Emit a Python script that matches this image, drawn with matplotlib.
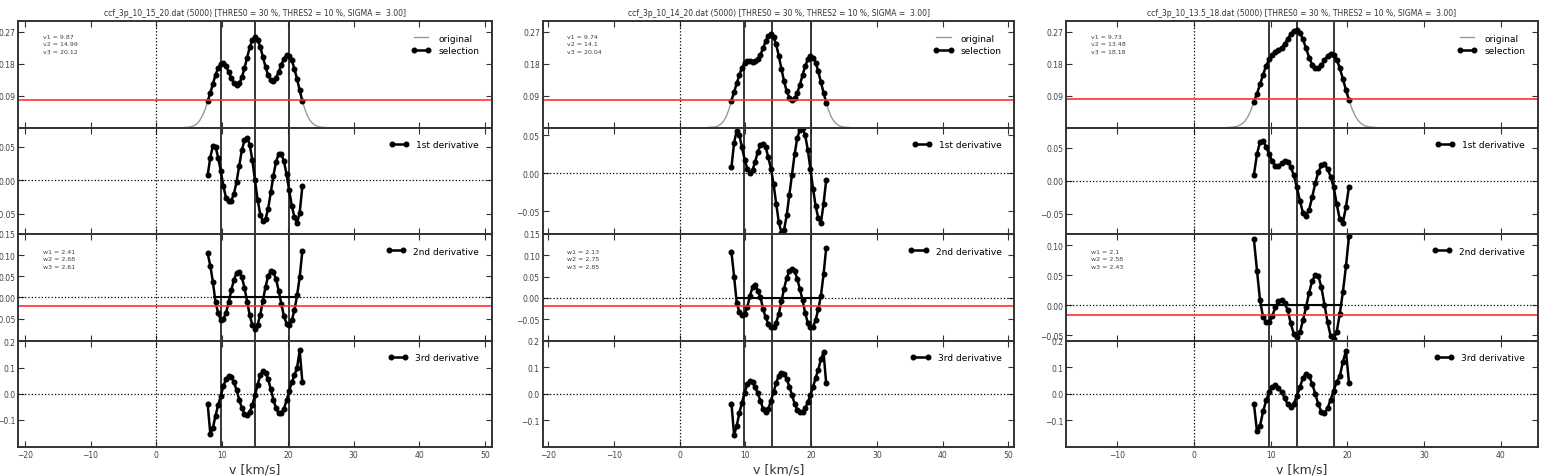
import matplotlib
matplotlib.use("Agg")
import matplotlib.pyplot as plt
import numpy as np

# ---- data, one block per file ----
titles = [
    "ccf_3p_10_15_20.dat (5000) [THRES0 = 30 %, THRES2 = 10 %, SIGMA =  3.00]",
    "ccf_3p_10_14_20.dat (5000) [THRES0 = 30 %, THRES2 = 10 %, SIGMA =  3.00]",
    "ccf_3p_10_13.5_18.dat (5000) [THRES0 = 30 %, THRES2 = 10 %, SIGMA =  3.00]",
]

# file 1: ccf_3p_10_15_20
vel_a = [7.8, 8.2, 8.6, 9.0, 9.4, 9.8, 10.2, 10.6, 11.0, 11.4, 11.8, 12.2, 12.6,
         13.0, 13.4, 13.8, 14.2, 14.6, 15.0, 15.4, 15.8, 16.2, 16.6, 17.0, 17.4,
         17.8, 18.2, 18.6, 19.0, 19.4, 19.8, 20.2, 20.6, 21.0, 21.4, 21.8, 22.2]
ccf_a = [0.074, 0.097, 0.123, 0.148, 0.168, 0.180, 0.181, 0.172, 0.157, 0.139,
         0.124, 0.119, 0.124, 0.141, 0.167, 0.197, 0.226, 0.247, 0.255, 0.247,
         0.227, 0.199, 0.171, 0.147, 0.133, 0.131, 0.140, 0.156, 0.176, 0.194,
         0.204, 0.202, 0.189, 0.165, 0.136, 0.105, 0.074]
d1_a = [0.008, 0.034, 0.052, 0.050, 0.034, 0.014, -0.009, -0.026, -0.031, -0.030,
        -0.020, -0.002, 0.022, 0.045, 0.060, 0.064, 0.053, 0.030, 0.000, -0.029,
        -0.051, -0.061, -0.058, -0.042, -0.018, 0.007, 0.028, 0.039, 0.039, 0.029,
        0.009, -0.015, -0.038, -0.055, -0.064, -0.048, -0.009]
d2_a = [0.104, 0.075, 0.036, -0.012, -0.037, -0.054, -0.051, -0.036, -0.011, 0.017,
        0.042, 0.058, 0.060, 0.048, 0.023, -0.010, -0.042, -0.066, -0.074, -0.065,
        -0.041, -0.008, 0.025, 0.050, 0.062, 0.060, 0.043, 0.016, -0.015, -0.044,
        -0.062, -0.065, -0.054, -0.030, 0.005, 0.048, 0.110]
d3_a = [-0.038, -0.152, -0.130, -0.083, -0.043, -0.008, 0.030, 0.056, 0.068, 0.065,
        0.045, 0.013, -0.022, -0.055, -0.076, -0.082, -0.070, -0.043, -0.005, 0.035,
        0.070, 0.086, 0.080, 0.055, 0.018, -0.022, -0.056, -0.074, -0.075, -0.058,
        -0.025, 0.010, 0.045, 0.070, 0.100, 0.165, 0.045]
tail_l_vel_a = [4.2, 4.6, 5.0, 5.4, 5.8, 6.2, 6.6, 7.0, 7.4]
tail_l_ccf_a = [0.0, 0.0005, 0.001, 0.003, 0.006, 0.011, 0.020, 0.033, 0.050]
tail_r_vel_a = [22.6, 23.0, 23.4, 23.8, 24.2, 24.6, 25.0, 25.4, 25.8]
tail_r_ccf_a = [0.051, 0.032, 0.019, 0.011, 0.0055, 0.0027, 0.0012, 0.0005, 0.0]
peaks_a = [9.87, 14.99, 20.12]
widths_a = [2.41, 2.68, 2.61]

# file 2: ccf_3p_10_14_20
vel_b = [7.9, 8.3, 8.7, 9.1, 9.5, 9.9, 10.3, 10.7, 11.1, 11.5, 11.9, 12.3, 12.7,
         13.1, 13.5, 13.9, 14.3, 14.7, 15.1, 15.5, 15.9, 16.3, 16.7, 17.1, 17.5,
         17.9, 18.3, 18.7, 19.1, 19.5, 19.9, 20.3, 20.7, 21.1, 21.5, 21.9, 22.3]
ccf_b = [0.076, 0.100, 0.124, 0.148, 0.168, 0.182, 0.187, 0.187, 0.185, 0.186,
         0.193, 0.205, 0.223, 0.243, 0.257, 0.262, 0.255, 0.234, 0.201, 0.165,
         0.130, 0.102, 0.084, 0.077, 0.082, 0.097, 0.120, 0.147, 0.172, 0.192,
         0.201, 0.197, 0.183, 0.158, 0.128, 0.098, 0.070]
d1_b = [0.008, 0.040, 0.056, 0.050, 0.034, 0.018, 0.006, 0.001, 0.004, 0.015,
        0.028, 0.037, 0.039, 0.034, 0.021, 0.006, -0.014, -0.040, -0.064, -0.078,
        -0.074, -0.055, -0.028, -0.002, 0.025, 0.046, 0.057, 0.059, 0.050, 0.031,
        0.006, -0.020, -0.043, -0.059, -0.065, -0.040, -0.009]
d2_b = [0.107, 0.050, -0.012, -0.033, -0.041, -0.038, -0.022, 0.004, 0.025, 0.030,
        0.017, 0.002, -0.025, -0.046, -0.061, -0.069, -0.069, -0.058, -0.037, -0.008,
        0.022, 0.047, 0.063, 0.068, 0.063, 0.045, 0.021, -0.005, -0.035, -0.058,
        -0.069, -0.068, -0.052, -0.026, 0.005, 0.055, 0.117]
d3_b = [-0.038, -0.155, -0.120, -0.072, -0.033, 0.004, 0.035, 0.049, 0.044, 0.024,
        0.002, -0.027, -0.056, -0.069, -0.058, -0.026, 0.006, 0.041, 0.068, 0.079,
        0.075, 0.055, 0.027, -0.005, -0.037, -0.060, -0.069, -0.068, -0.055, -0.032,
        -0.006, 0.025, 0.060, 0.090, 0.130, 0.155, 0.039]
tail_l_vel_b = [4.3, 4.7, 5.1, 5.5, 5.9, 6.3, 6.7, 7.1, 7.5]
tail_l_ccf_b = [0.0, 0.0005, 0.001, 0.002, 0.005, 0.010, 0.018, 0.031, 0.050]
tail_r_vel_b = [22.7, 23.1, 23.5, 23.9, 24.3, 24.7, 25.1, 25.5, 25.9]
tail_r_ccf_b = [0.047, 0.029, 0.017, 0.0095, 0.0048, 0.0023, 0.001, 0.0004, 0.0]
peaks_b = [9.74, 14.1, 20.04]
widths_b = [2.13, 2.75, 2.85]

# file 3: ccf_3p_10_13.5_18
vel_c = [7.8, 8.2, 8.6, 9.0, 9.4, 9.8, 10.2, 10.6, 11.0, 11.4, 11.8, 12.2, 12.6,
         13.0, 13.4, 13.8, 14.2, 14.6, 15.0, 15.4, 15.8, 16.2, 16.6, 17.0, 17.4,
         17.8, 18.2, 18.6, 19.0, 19.4, 19.8, 20.2]
ccf_c = [0.072, 0.095, 0.122, 0.149, 0.174, 0.192, 0.204, 0.212, 0.218, 0.225,
         0.235, 0.249, 0.263, 0.273, 0.275, 0.267, 0.248, 0.223, 0.197, 0.177,
         0.167, 0.167, 0.175, 0.189, 0.202, 0.208, 0.205, 0.191, 0.167, 0.137,
         0.106, 0.077]
d1_c = [0.009, 0.040, 0.059, 0.060, 0.051, 0.040, 0.029, 0.022, 0.022, 0.026,
        0.029, 0.028, 0.021, 0.008, -0.010, -0.031, -0.049, -0.053, -0.044, -0.025,
        -0.004, 0.013, 0.023, 0.025, 0.018, 0.006, -0.010, -0.036, -0.059, -0.064,
        -0.040, -0.009]
d2_c = [0.110, 0.058, 0.008, -0.020, -0.028, -0.028, -0.018, -0.003, 0.007, 0.0095,
        0.004, -0.008, -0.030, -0.048, -0.053, -0.045, -0.025, -0.003, 0.021, 0.041,
        0.050, 0.049, 0.030, 0.001, -0.028, -0.051, -0.056, -0.044, -0.014, 0.022,
        0.065, 0.116]
d3_c = [-0.038, -0.140, -0.120, -0.066, -0.025, 0.006, 0.026, 0.031, 0.022, 0.006,
        -0.015, -0.040, -0.050, -0.037, -0.009, 0.025, 0.060, 0.075, 0.066, 0.037,
        0.000, -0.040, -0.068, -0.071, -0.055, -0.022, 0.012, 0.045, 0.066, 0.120,
        0.160, 0.040]
tail_l_vel_c = [4.2, 4.6, 5.0, 5.4, 5.8, 6.2, 6.6, 7.0, 7.4]
tail_l_ccf_c = [0.0, 0.0004, 0.001, 0.0024, 0.005, 0.0095, 0.017, 0.030, 0.048]
tail_r_vel_c = [20.6, 21.0, 21.4, 21.8, 22.2, 22.6, 23.0, 23.4, 23.8]
tail_r_ccf_c = [0.052, 0.033, 0.0195, 0.011, 0.0056, 0.0028, 0.0013, 0.0005, 0.0]
peaks_c = [9.73, 13.48, 18.18]
widths_c = [2.1, 2.58, 2.43]

# thresholds (red lines)
thres0 = [0.077, 0.0785, 0.080]
thres2 = [-0.0197, -0.0197, -0.017]

# axis ranges and ticks
xlims = [(-21.0, 51.0), (-20.8, 50.9), (-16.7, 44.8)]
xticks = [[-20, -10, 0, 10, 20, 30, 40, 50],
          [-20, -10, 0, 10, 20, 30, 40, 50],
          [-10, 0, 10, 20, 30, 40]]
ylims = [
    [(0, 0.30), (-0.08, 0.079), (-0.102, 0.15), (-0.203, 0.203)],
    [(0, 0.30), (-0.0796, 0.060), (-0.100, 0.15), (-0.2, 0.2)],
    [(0, 0.30), (-0.081, 0.0805), (-0.0588, 0.119), (-0.2, 0.2)],
]
yticks = [
    [[0.09, 0.18, 0.27], [-0.05, 0.0, 0.05], [-0.05, 0.0, 0.05, 0.10, 0.15], [-0.1, 0.0, 0.1, 0.2]],
    [[0.09, 0.18, 0.27], [-0.05, 0.0, 0.05], [-0.05, 0.0, 0.05, 0.10, 0.15], [-0.1, 0.0, 0.1, 0.2]],
    [[0.09, 0.18, 0.27], [-0.05, 0.0, 0.05], [-0.05, 0.0, 0.05, 0.10], [-0.1, 0.0, 0.1, 0.2]],
]
deriv_labels = ["1st derivative", "2nd derivative", "3rd derivative"]

columns = [
    (vel_a, ccf_a, [d1_a, d2_a, d3_a], tail_l_vel_a, tail_l_ccf_a, tail_r_vel_a, tail_r_ccf_a, peaks_a, widths_a),
    (vel_b, ccf_b, [d1_b, d2_b, d3_b], tail_l_vel_b, tail_l_ccf_b, tail_r_vel_b, tail_r_ccf_b, peaks_b, widths_b),
    (vel_c, ccf_c, [d1_c, d2_c, d3_c], tail_l_vel_c, tail_l_ccf_c, tail_r_vel_c, tail_r_ccf_c, peaks_c, widths_c),
]

# ---- layout (pixel boxes of the reference) ----
W, H = 1543, 477
col_px = [(18.3, 491.7), (542.7, 1014.3), (1066.0, 1537.7)]
row_px = [22.0, 128.5, 235.0, 341.5, 448.0]

fig = plt.figure(figsize=(W / 100, H / 100), dpi=100)
red = "#ff3030"
sel_style = dict(color="k", lw=1.8, marker="o", ms=3.3)


def style_axis(ax):
    ax.tick_params(direction="in", top=True, right=True, length=4, width=0.8,
                   labelsize=5.5, pad=2, labelcolor="0.25", color="0.2")
    for sp in ax.spines.values():
        sp.set_linewidth(1.4)
        sp.set_color("0.2")


for c, (vel, ccf, derivs, tlv, tlc, trv, trc, peaks, widths) in enumerate(columns):
    x0, x1 = col_px[c]
    axes = []
    for r in range(4):
        y0, y1 = row_px[r], row_px[r + 1]
        ax = fig.add_axes([x0 / W, 1 - y1 / H, (x1 - x0) / W, (y1 - y0) / H])
        ax.set_xlim(*xlims[c])
        ax.set_ylim(*ylims[c][r])
        ax.set_xticks(xticks[c])
        ax.set_yticks(yticks[c][r])
        style_axis(ax)
        ax.axvline(0, color="k", ls=":", lw=0.9)
        for vp in peaks:
            ax.axvline(vp, color="0.15", lw=1.3)
        if r < 3:
            ax.tick_params(labelbottom=False)
        axes.append(ax)

    # top panel: original ccf and the selected part
    ax = axes[0]
    orig_v = np.concatenate([tlv, vel, trv])
    orig_f = np.concatenate([tlc, ccf, trc])
    ax.plot(orig_v, orig_f, color="0.6", lw=1.0, label="original")
    ax.plot(vel, ccf, label="selection", **sel_style)
    ax.axhline(thres0[c], color=red, lw=1.4, alpha=0.85)
    ax.set_title(titles[c], fontsize=5.5, pad=4, color="0.2")
    ax.text(0.052, 0.88, "\n".join(f"v{i + 1} = {p}" for i, p in enumerate(peaks)),
            transform=ax.transAxes, fontsize=4.5, va="top", ha="left",
            color="0.25", linespacing=1.6)
    ax.legend(loc="upper right", frameon=False, fontsize=6.5, numpoints=2,
              handlelength=2.2, borderaxespad=1.0, labelspacing=0.4)

    # derivative panels
    for k, d in enumerate(derivs):
        ax = axes[k + 1]
        ax.axhline(0, color="k", ls=":", lw=0.9)
        ax.plot(vel, d, label=deriv_labels[k], **sel_style)
        ax.legend(loc="upper right", frameon=False, fontsize=6.5, numpoints=2,
                  handlelength=2.2, borderaxespad=1.0)

    ax = axes[2]
    ax.hlines(0, peaks[0] - widths[0] / 2, peaks[2] + widths[2] / 2, color="k", lw=1.5)
    ax.axhline(thres2[c], color=red, lw=1.4, alpha=0.85)
    ax.text(0.052, 0.86, "\n".join(f"w{i + 1} = {w}" for i, w in enumerate(widths)),
            transform=ax.transAxes, fontsize=4.5, va="top", ha="left",
            color="0.25", linespacing=1.6)

    axes[3].set_xlabel("v [km/s]", fontsize=9, labelpad=3, color="0.2")

fig.savefig("out.png", dpi=100)
